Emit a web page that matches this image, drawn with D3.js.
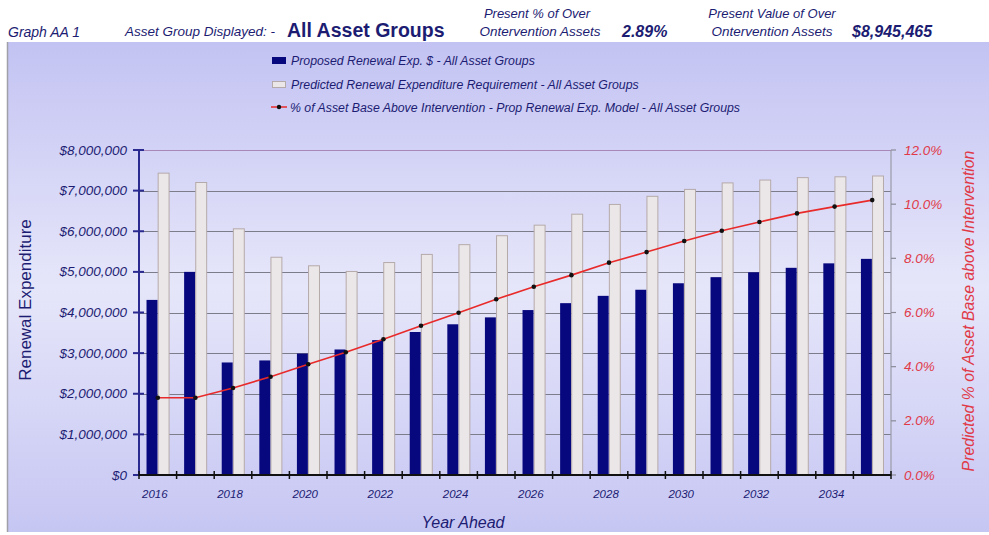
<!DOCTYPE html>
<html><head><meta charset="utf-8">
<script src="https://cdn.jsdelivr.net/npm/d3@7"></script>
<style>body{margin:0;background:#fff;}svg{display:block;font-family:"Liberation Sans",Arial,sans-serif;}</style>
</head><body>
<svg id="c" width="989" height="535"></svg>
<script>
const years = d3.range(2016, 2036);
const proposed = [4.31,5.00,2.77,2.82,2.99,3.09,3.32,3.52,3.71,3.88,4.06,4.23,4.41,4.56,4.72,4.87,4.99,5.10,5.21,5.32].map(v=>v*1e6);
const predicted = [7.43,7.20,6.06,5.36,5.15,5.01,5.23,5.43,5.67,5.89,6.15,6.42,6.66,6.86,7.03,7.19,7.26,7.32,7.34,7.36].map(v=>v*1e6);
const pctAbove = [2.85,2.85,3.21,3.63,4.09,4.53,5.01,5.51,5.99,6.49,6.95,7.38,7.84,8.23,8.64,9.02,9.34,9.66,9.91,10.15];
const leftTicks = d3.range(0, 8000001, 1000000);
const rightTicks = [0,2,4,6,8,10,12];
const xLabelYears = years.filter(y => y % 2 === 0);

(function(){
const svg = d3.select("#c");
const navy = "#1c1c72";
const defs = svg.append("defs");
const g = defs.append("linearGradient").attr("id","bg").attr("x1",0).attr("y1",0).attr("x2",0).attr("y2",1);
g.append("stop").attr("offset","0%").attr("stop-color","#c3c3f3");
g.append("stop").attr("offset","50%").attr("stop-color","#e6e6fa");
g.append("stop").attr("offset","100%").attr("stop-color","#c6c6f3");
svg.append("rect").attr("x",7).attr("y",42).attr("width",982).attr("height",490).attr("fill","url(#bg)");
svg.append("line").attr("x1",7.5).attr("x2",7.5).attr("y1",42).attr("y2",532).attr("stroke","#a0a0a8").attr("stroke-width",1.5);

// header
const hdr = svg.append("g").attr("fill", navy);
hdr.append("text").attr("x",8).attr("y",37).attr("font-size",14).attr("font-style","italic").text("Graph AA 1");
hdr.append("text").attr("x",125).attr("y",36).attr("font-size",13.5).attr("font-style","italic").text("Asset Group Displayed: -");
hdr.append("text").attr("x",287).attr("y",37).attr("font-size",19.5).attr("font-weight","bold").text("All Asset Groups");
hdr.append("text").attr("x",537).attr("y",18).attr("font-size",13).attr("font-style","italic").attr("text-anchor","middle").text("Present % of Over");
hdr.append("text").attr("x",540).attr("y",36).attr("font-size",13.5).attr("font-style","italic").attr("text-anchor","middle").text("Ontervention Assets");
hdr.append("text").attr("x",622).attr("y",37).attr("font-size",16).attr("font-weight","bold").attr("font-style","italic").text("2.89%");
hdr.append("text").attr("x",772).attr("y",18).attr("font-size",13).attr("font-style","italic").attr("text-anchor","middle").text("Present Value of Over");
hdr.append("text").attr("x",772).attr("y",36).attr("font-size",13.5).attr("font-style","italic").attr("text-anchor","middle").text("Ontervention Assets");
hdr.append("text").attr("x",852).attr("y",37).attr("font-size",16).attr("font-weight","bold").attr("font-style","italic").text("$8,945,465");

// scales
const pL = 139, pR = 891, pT = 150, pB = 475;
const x0 = d3.scaleBand().domain(years).range([pL, pR]).paddingInner(0.4).paddingOuter(0.2);
const x1 = d3.scaleBand().domain(["p","r"]).range([0, x0.bandwidth()]).paddingInner(0.06);
const y = d3.scaleLinear().domain([0, 8000000]).range([pB, pT]);
const y2 = d3.scaleLinear().domain([0, 12]).range([pB, pT]);
const step = x0.step();

// grid
svg.append("g").selectAll("line").data(leftTicks.filter(d=>d>0)).join("line")
  .attr("x1",pL).attr("x2",pR).attr("y1",d=>Math.round(y(d))+0.5).attr("y2",d=>Math.round(y(d))+0.5)
  .attr("stroke",d=>d===8000000?"#a888b8":"#7c7c8a").attr("stroke-width",1.2);

// bars
const bars = svg.append("g");
bars.selectAll("rect.r").data(years).join("rect").attr("class","r")
  .attr("x",(d)=>x0(d)+x1("r")).attr("width",x1.bandwidth())
  .attr("y",(d,i)=>y(predicted[i])).attr("height",(d,i)=>pB-y(predicted[i]))
  .attr("fill","#ebe7e8").attr("stroke","#b5aaaa").attr("stroke-width",1);
bars.selectAll("rect.p").data(years).join("rect").attr("class","p")
  .attr("x",(d)=>x0(d)+x1("p")).attr("width",x1.bandwidth())
  .attr("y",(d,i)=>y(proposed[i])).attr("height",(d,i)=>pB-y(proposed[i]))
  .attr("fill","#08087e");

// line
const cx = d => x0(d) + x0.bandwidth()/2;
const line = d3.line().x((d,i)=>cx(years[i])).y(d=>y2(d));
svg.append("path").datum(pctAbove).attr("d",line).attr("fill","none").attr("stroke","#e82a2a").attr("stroke-width",1.6);
svg.append("g").selectAll("circle").data(pctAbove).join("circle")
  .attr("cx",(d,i)=>cx(years[i])).attr("cy",d=>y2(d)).attr("r",2.3).attr("fill","#111");

// left axis
const la = svg.append("g");
la.append("line").attr("x1",pL).attr("x2",pL).attr("y1",pT).attr("y2",pB).attr("stroke","#2a2a90").attr("stroke-width",2);
la.selectAll("line.t").data(leftTicks).join("line").attr("class","t")
  .attr("x1",pL-6).attr("x2",pL+5).attr("y1",d=>y(d)).attr("y2",d=>y(d)).attr("stroke","#2a2a90").attr("stroke-width",2);
la.selectAll("text").data(leftTicks).join("text")
  .attr("x",127).attr("y",d=>y(d)+4.5).attr("text-anchor","end").attr("font-size",13.5).attr("font-style","italic").attr("fill",navy)
  .text(d=>d3.format("$,")(d));

// right axis
const ra = svg.append("g");
ra.append("line").attr("x1",pR).attr("x2",pR).attr("y1",pT).attr("y2",pB).attr("stroke","#9a9aa8").attr("stroke-width",1.2);
ra.selectAll("line.t").data(rightTicks).join("line").attr("class","t")
  .attr("x1",pR).attr("x2",pR+5).attr("y1",d=>y2(d)).attr("y2",d=>y2(d)).attr("stroke","#8a8a98").attr("stroke-width",1.2);
ra.selectAll("text").data(rightTicks).join("text")
  .attr("x",904).attr("y",d=>y2(d)+4.5).attr("font-size",13.5).attr("font-style","italic").attr("fill","#e03a48")
  .text(d=>d3.format(".1f")(d)+"%");

// bottom axis
const ba = svg.append("g");
ba.append("line").attr("x1",pL).attr("x2",pR).attr("y1",pB).attr("y2",pB).attr("stroke","#111").attr("stroke-width",2);
ba.selectAll("line.t").data(d3.range(0,21)).join("line").attr("class","t")
  .attr("x1",d=>pL+d*step).attr("x2",d=>pL+d*step).attr("y1",pB-4).attr("y2",pB+4).attr("stroke","#111").attr("stroke-width",1.5);
ba.selectAll("text").data(xLabelYears).join("text")
  .attr("x",d=>cx(d)-3).attr("y",498).attr("text-anchor","middle").attr("font-size",11.5).attr("font-style","italic").attr("fill",navy)
  .text(d=>d);

// axis titles
svg.append("text").attr("transform","translate(31,300) rotate(-90)").attr("text-anchor","middle")
  .attr("font-size",17).attr("fill",navy).text("Renewal Expenditure");
svg.append("text").attr("transform","translate(974,311) rotate(-90)").attr("text-anchor","middle")
  .attr("font-size",15.8).attr("font-style","italic").attr("fill","#e03a48").text("Predicted % of Asset Base above Intervention");
svg.append("text").attr("x",463).attr("y",528).attr("text-anchor","middle").attr("font-size",16).attr("font-style","italic").attr("fill",navy).text("Year Ahead");

// legend
const lg = svg.append("g");
lg.append("rect").attr("x",272).attr("y",57).attr("width",14).attr("height",7).attr("fill","#08087e");
lg.append("rect").attr("x",272.5).attr("y",81.5).attr("width",13).attr("height",6).attr("fill","#ebe7e8").attr("stroke","#b5aaaa");
lg.append("line").attr("x1",271).attr("x2",287).attr("y1",107).attr("y2",107).attr("stroke","#e82a2a").attr("stroke-width",1.5);
lg.append("circle").attr("cx",279).attr("cy",107).attr("r",2.2).attr("fill","#111");
const lt = ["Proposed Renewal Exp. $ -  All Asset Groups","Predicted Renewal Expenditure Requirement -  All Asset Groups","% of Asset Base Above Intervention - Prop Renewal Exp. Model -  All Asset Groups"];
lg.selectAll("text").data(lt).join("text").attr("x",(d,i)=>i===2?290:291).attr("y",(d,i)=>65+i*23.5)
  .attr("font-size",12.3).attr("font-style","italic").attr("fill",navy).text(d=>d);
})();
</script>
</body></html>
